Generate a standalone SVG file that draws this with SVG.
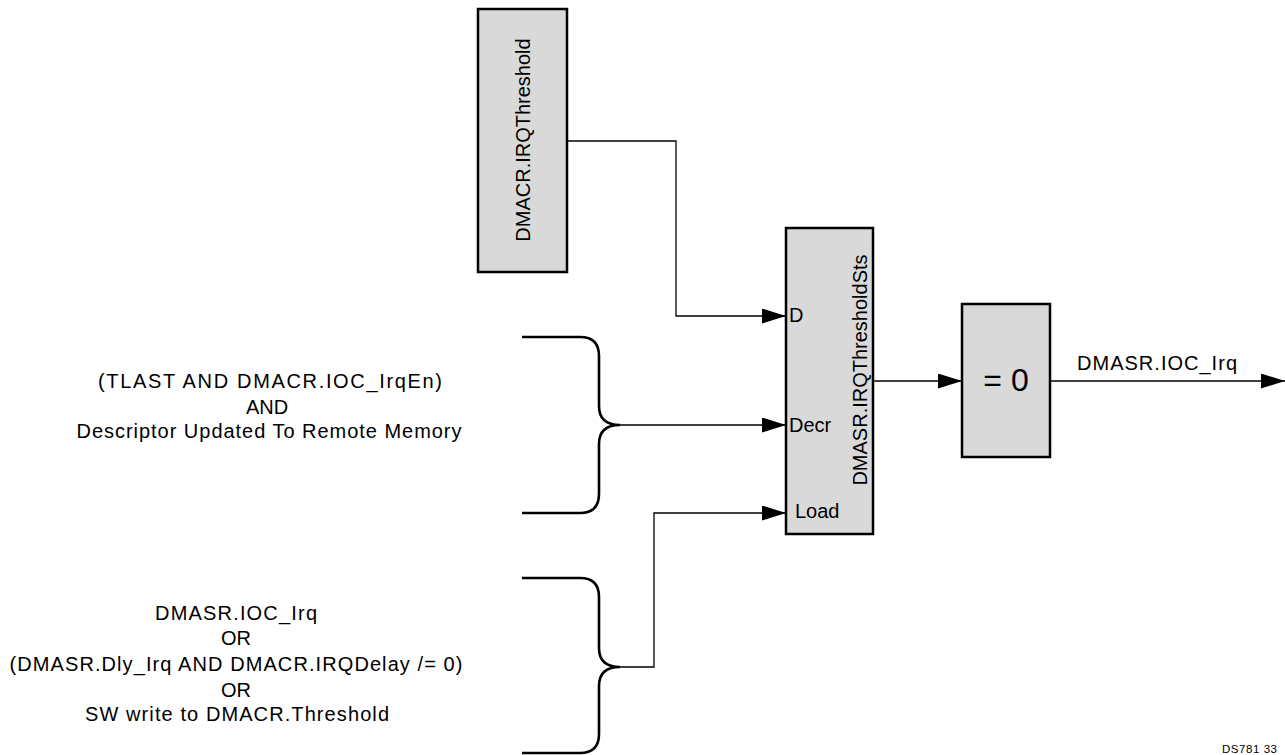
<svg xmlns="http://www.w3.org/2000/svg" width="1285" height="755" viewBox="0 0 1285 755">
<style>
text{font-family:"Liberation Sans",Arial,sans-serif;fill:#000}
.lbl{font-size:20px}
.box{fill:#d9d9d9;stroke:#000;stroke-width:2.5}
.wire{fill:none;stroke:#000;stroke-width:1.3}
.brace{fill:none;stroke:#000;stroke-width:2.6}
</style>
<defs>
<marker id="arr" markerWidth="24" markerHeight="15" refX="24" refY="7.5" orient="auto" markerUnits="userSpaceOnUse">
<path d="M0,0 L24,7.5 L0,15 Z" fill="#000"/>
</marker>
</defs>
<rect width="1285" height="755" fill="#fff"/>
<g id="irqthreshold">
<rect class="box" x="478" y="9" width="89" height="263"/>
<text class="lbl" x="530" y="140" text-anchor="middle" transform="rotate(-90 530 140)">DMACR.IRQThreshold</text>
</g>
<g id="thresholdsts">
<rect class="box" x="786" y="228" width="87" height="306"/>
<text class="lbl" x="867" y="370" text-anchor="middle" transform="rotate(-90 867 370)">DMASR.IRQThresholdSts</text>
<text class="lbl" x="789" y="322">D</text>
<text class="lbl" x="789" y="432">Decr</text>
<text class="lbl" x="795" y="518">Load</text>
</g>
<g id="eqzero">
<rect class="box" x="962" y="304" width="88" height="153"/>
<text x="1006" y="391" text-anchor="middle" font-size="32">= 0</text>
</g>
<g id="decr-cond">
<path class="brace" d="M522,337 H580 Q599,337 599,356 V406 Q599,425 620,425 Q599,425 599,444 V494 Q599,513 580,513 H522"/>
<text class="lbl" text-anchor="middle" x="270" y="388" textLength="344" lengthAdjust="spacing">(TLAST AND DMACR.IOC_IrqEn)</text>
<text class="lbl" text-anchor="middle" x="267" y="414">AND</text>
<text class="lbl" text-anchor="middle" x="269" y="438" textLength="385" lengthAdjust="spacing">Descriptor Updated To Remote Memory</text>
</g>
<g id="load-cond">
<path class="brace" d="M522,578 H580 Q599,578 599,597 V648 Q599,667 620,667 Q599,667 599,686 V734 Q599,753 580,753 H522"/>
<text class="lbl" text-anchor="middle" x="236" y="620" textLength="162" lengthAdjust="spacing">DMASR.IOC_Irq</text>
<text class="lbl" text-anchor="middle" x="236" y="645">OR</text>
<text class="lbl" text-anchor="middle" x="236" y="671" textLength="453" lengthAdjust="spacing">(DMASR.Dly_Irq AND DMACR.IRQDelay /= 0)</text>
<text class="lbl" text-anchor="middle" x="236" y="697">OR</text>
<text class="lbl" text-anchor="middle" x="237" y="721" textLength="304" lengthAdjust="spacing">SW write to DMACR.Threshold</text>
</g>
<g id="connectors">
<path class="wire" d="M567,141 H676 V316 H786" marker-end="url(#arr)"/>
<path class="wire" d="M620,425 H786" marker-end="url(#arr)"/>
<path class="wire" d="M620,667 H654 V513 H786" marker-end="url(#arr)"/>
<path class="wire" d="M873,381 H962" marker-end="url(#arr)"/>
<path class="wire" d="M1050,381 H1285" marker-end="url(#arr)"/>
<text class="lbl" x="1077" y="370" textLength="160" lengthAdjust="spacing">DMASR.IOC_Irq</text>
</g>
<text x="1277" y="753" text-anchor="end" font-size="11.5" textLength="55" lengthAdjust="spacing">DS781 33</text>
</svg>
